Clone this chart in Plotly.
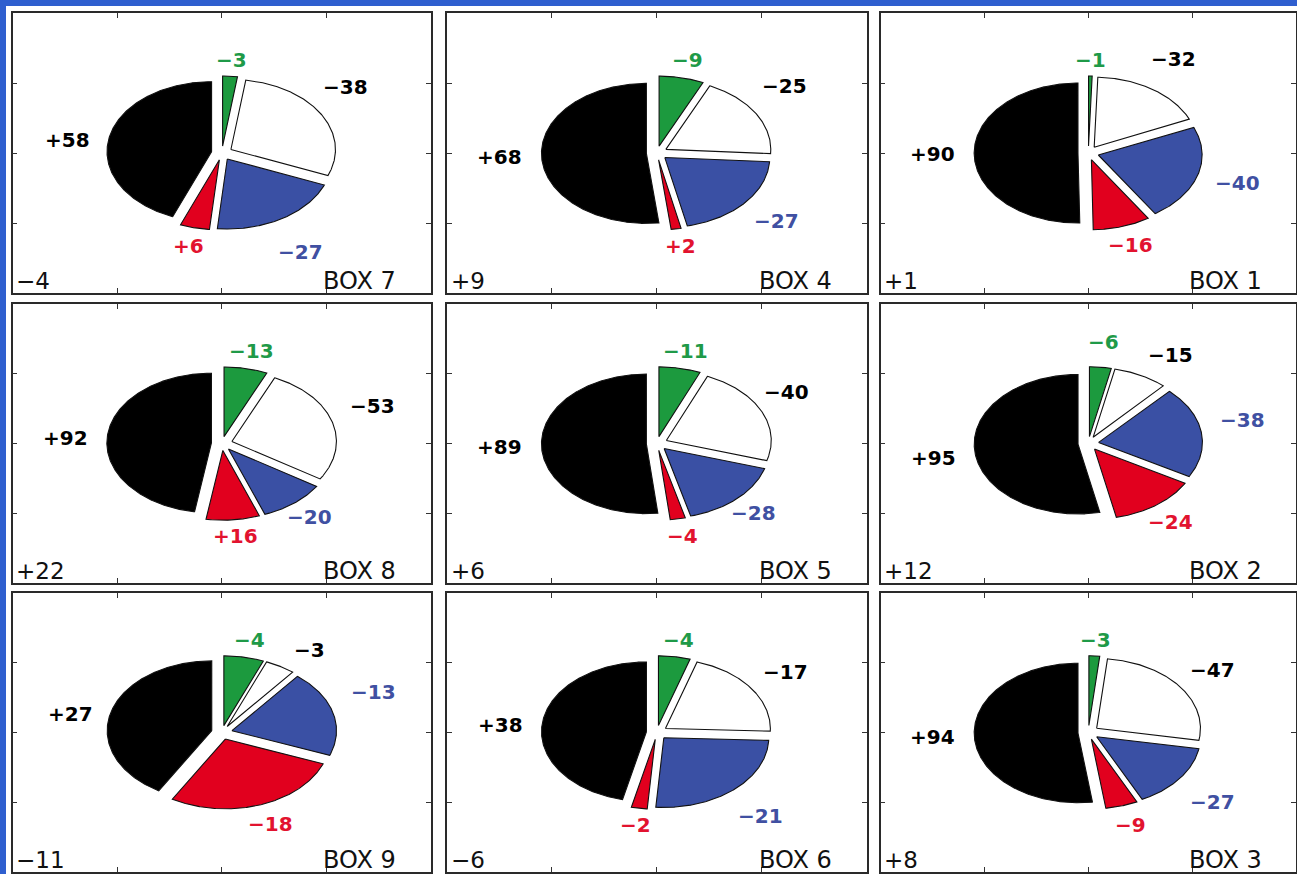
import numpy as np
import plotly.graph_objects as go

# Panels in reading order (row by row, left to right)
boxes = ["BOX 7", "BOX 4", "BOX 1", "BOX 8", "BOX 5", "BOX 2", "BOX 9", "BOX 6", "BOX 3"]
net = [-4, 9, 1, 22, 6, 12, -11, -6, 8]
black = [58, 68, 90, 92, 89, 95, 27, 38, 94]
green = [-3, -9, -1, -13, -11, -6, -4, -4, -3]
white = [-38, -25, -32, -53, -40, -15, -3, -17, -47]
blue = [-27, -27, -40, -20, -28, -38, -13, -21, -27]
red = [6, 2, -16, 16, -4, -24, -18, -2, -9]

W, H = 1297, 874
COL_LEFT = [12.7, 447.0, 880.7]
COL_RIGHT = [431.0, 866.7, 1296.0]
ROW_TOP = [13.0, 304.0, 593.0]
ROW_BOTTOM = [293.0, 583.0, 872.0]

FILL = {"green": "#1c9a3e", "white": "#ffffff", "blue": "#3a50a4", "red": "#e1001e", "black": "#000000"}
TEXT = {"green": "#1f9a48", "white": "#000000", "blue": "#4050a2", "red": "#e2132f", "black": "#000000"}
EXPLODE = 0.1
FONT = "DejaVu Sans"

# small hand offsets (axis units) that keep crowded labels clear of neighbours
LABEL_NUDGE = {
    ("BOX 7", "white"): (-0.12, 0.19), ("BOX 7", "blue"): (0.0, -0.17),
    ("BOX 4", "white"): (-0.07, 0.19), ("BOX 1", "white"): (0.0, 0.13),
    ("BOX 8", "white"): (0.0, 0.11), ("BOX 8", "blue"): (-0.09, 0.10),
    ("BOX 5", "white"): (-0.12, 0.10), ("BOX 5", "blue"): (-0.11, 0.07),
    ("BOX 2", "green"): (0.0, 0.12), ("BOX 2", "white"): (0.13, 0.0),
    ("BOX 2", "blue"): (0.0, 0.10), ("BOX 2", "black"): (0.0, -0.10),
    ("BOX 2", "red"): (-0.08, 0.06),
    ("BOX 9", "white"): (0.10, -0.07), ("BOX 9", "blue"): (0.0, 0.19),
    ("BOX 6", "blue"): (0.0, -0.09), ("BOX 3", "blue"): (0.0, -0.09),
}


def signed(v):
    return ("+" if v > 0 else "\u2212") + str(abs(v))


fig = go.Figure()
layout = dict(
    width=W, height=H, margin=dict(l=0, r=0, t=0, b=0),
    paper_bgcolor="white", plot_bgcolor="white", showlegend=False,
    shapes=[], annotations=[],
)

# blue slide edge along the left and top
layout["shapes"].append(dict(type="rect", xref="paper", yref="paper", x0=0, x1=6 / W, y0=0, y1=1,
                             fillcolor="#2f5fcf", line=dict(width=0), layer="below"))
layout["shapes"].append(dict(type="rect", xref="paper", yref="paper", x0=0, x1=1, y0=1 - 6 / H, y1=1,
                             fillcolor="#2f5fcf", line=dict(width=0), layer="below"))

for i in range(9):
    r, c = divmod(i, 3)
    k = i + 1
    xa = "x" if k == 1 else f"x{k}"
    ya = "y" if k == 1 else f"y{k}"
    axis_style = dict(range=[-2, 2], tickvals=[-1, 0, 1], ticks="inside", ticklen=5, tickwidth=1,
                      tickcolor="#333", showline=True, linecolor="#2a2a2a", linewidth=1.5,
                      mirror="ticks", showgrid=False, zeroline=False, showticklabels=False,
                      fixedrange=True)
    layout["xaxis" if k == 1 else f"xaxis{k}"] = dict(
        domain=[COL_LEFT[c] / W, COL_RIGHT[c] / W], anchor=ya, **axis_style)
    layout["yaxis" if k == 1 else f"yaxis{k}"] = dict(
        domain=[1 - ROW_BOTTOM[r] / H, 1 - ROW_TOP[r] / H], anchor=xa, **axis_style)

    # slices run clockwise from twelve o'clock; sizes follow absolute values
    parts = [("green", green[i]), ("white", white[i]), ("blue", blue[i]),
             ("red", red[i]), ("black", black[i])]
    total = sum(abs(v) for _, v in parts)
    start = 90.0
    for name, v in parts:
        span = 360.0 * abs(v) / total
        a1, a2 = start, start - span
        mid = np.radians((a1 + a2) / 2)
        ox, oy = EXPLODE * np.cos(mid), EXPLODE * np.sin(mid)
        n = max(3, int(span * 2))
        th = np.radians(np.linspace(a1, a2, n))
        xs = np.concatenate([[ox], ox + np.cos(th), [ox]])
        ys = np.concatenate([[oy], oy + np.sin(th), [oy]])
        fig.add_trace(go.Scatter(x=xs, y=ys, xaxis=xa, yaxis=ya, mode="lines", fill="toself",
                                 fillcolor=FILL[name], line=dict(color="#111", width=1.1),
                                 hoverinfo="skip"))
        # value label just outside its slice, along the slice's bisector
        cm, sm = np.cos(mid), np.sin(mid)
        if name == "black":
            lx, ly = 1.5 * cm, 1.0 * sm
        else:
            rad = 1.5 - 0.17 * abs(sm) ** 8
            lx, ly = rad * cm, rad * sm
        dx, dy = LABEL_NUDGE.get((boxes[i], name), (0.0, 0.0))
        layout["annotations"].append(dict(
            x=lx + dx, y=ly + dy, xref=xa, yref=ya, text=signed(v), showarrow=False,
            xanchor="center", yanchor="middle",
            font=dict(family=FONT, size=20, color=TEXT[name], weight="bold")))
        start = a2

    layout["annotations"].append(dict(
        x=-1.985, y=-1.83, xref=xa, yref=ya, text=signed(net[i]), showarrow=False,
        xanchor="left", yanchor="middle", font=dict(family=FONT, size=23, color="#111")))
    layout["annotations"].append(dict(
        x=0.95, y=-1.83, xref=xa, yref=ya, text=boxes[i], showarrow=False,
        xanchor="left", yanchor="middle", font=dict(family=FONT, size=24, color="#111")))

fig.update_layout(**layout)
fig.write_html("out.html")
